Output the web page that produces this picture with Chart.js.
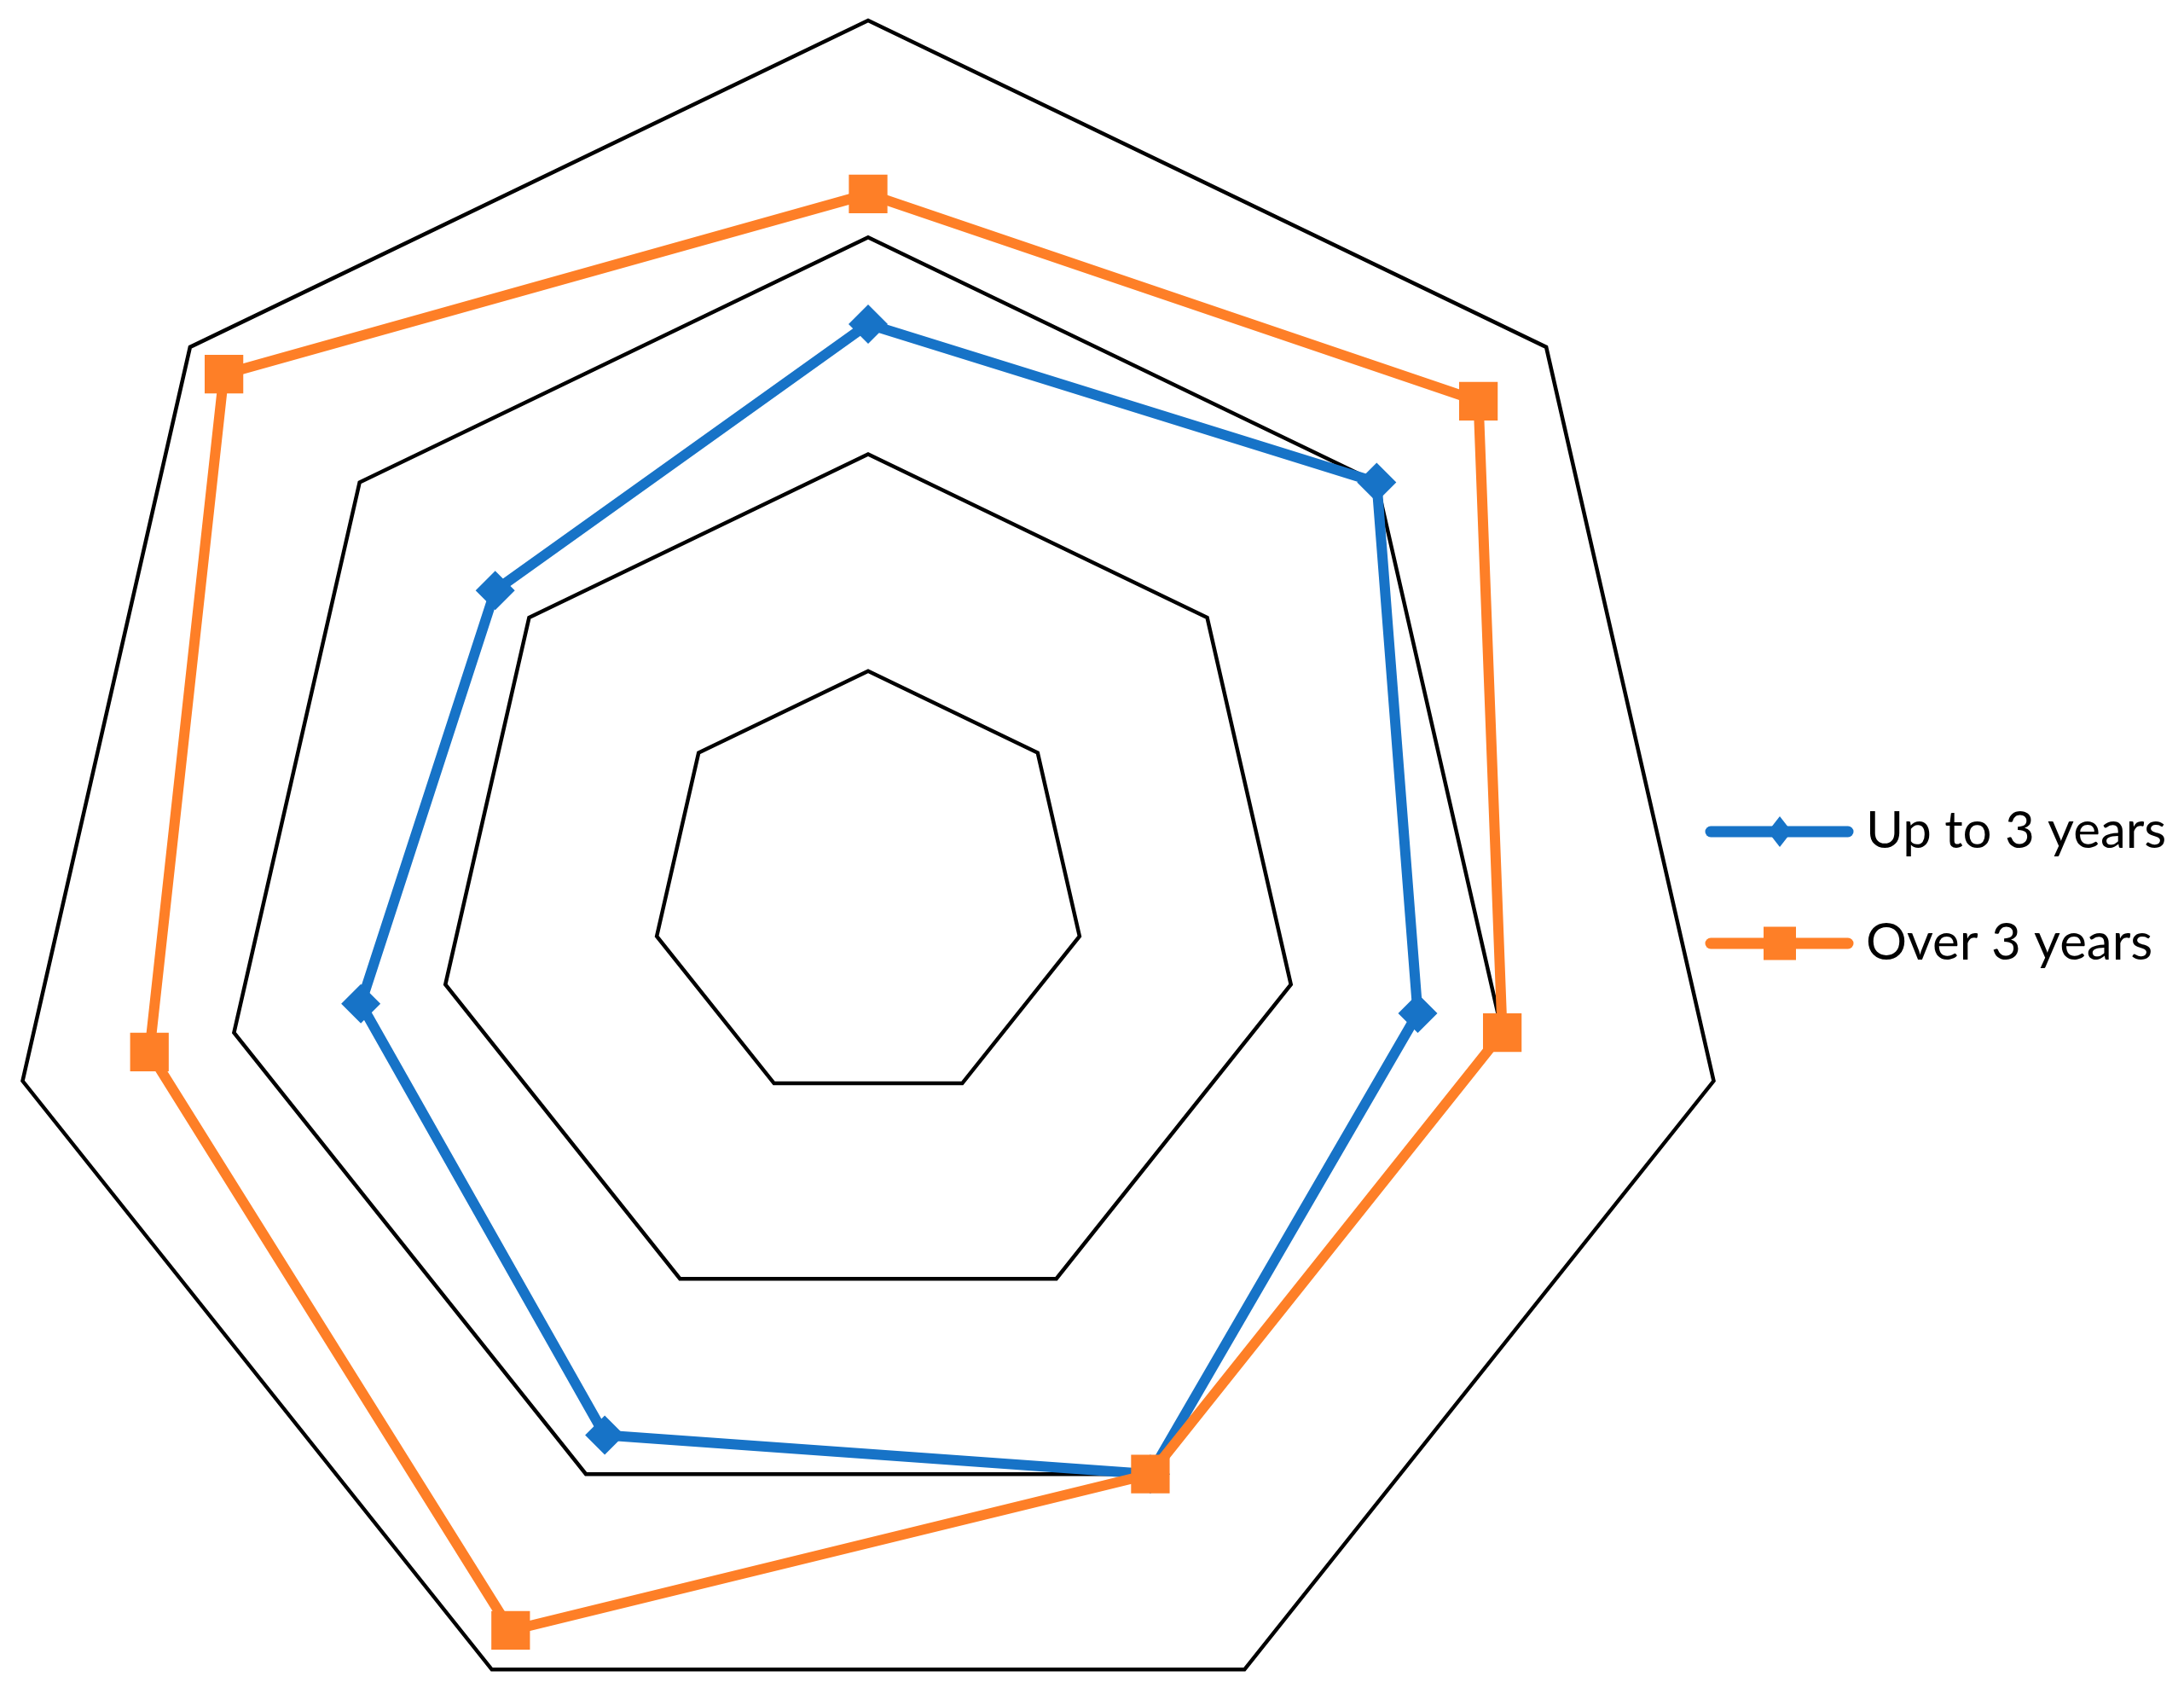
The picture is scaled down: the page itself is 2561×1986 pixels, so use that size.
<!DOCTYPE html>
<html>
<head>
<meta charset="utf-8">
<script src="https://cdn.jsdelivr.net/npm/chart.js@4.4.1/dist/chart.umd.min.js"></script>
<style>
    html, body { margin: 0; padding: 0; background: #ffffff; overflow: hidden; }
    #wrap { width: 2561px; height: 2100px; }
</style>
</head>
<body>
<div id="wrap"><canvas id="graficaRadar" width="2561" height="2100"></canvas></div>
<script>
// categories (no labels shown on the chart)
const categorias = ['A', 'B', 'C', 'D', 'E', 'F', 'G'];
const serieNombres = ['Up to 3 years', 'Over 3 years'];
const hastaTresAnios = [3.6, 4.0, 3.6, 4.0, 3.8, 3.4, 3.2];
const masDeTresAnios = [4.2, 4.6, 4.0, 4.0, 4.8, 4.4, 4.8];
const escalaMin = 1;
const escalaMax = 5;

const azul = '#1773c7';
const naranja = '#fe7f27';

// legend drawn by hand: line with marker, like the original
const leyendaLinea = {
    id: 'leyendaLinea',
    afterDraw(chart) {
        const ctx = chart.ctx;
        const filas = [975, 1106];
        ctx.save();
        chart.data.datasets.forEach(function(ds, i) {
            const y = filas[i];
            ctx.strokeStyle = ds.borderColor;
            ctx.lineWidth = 13;
            ctx.lineCap = 'round';
            ctx.beginPath();
            ctx.moveTo(2006, y);
            ctx.lineTo(2167, y);
            ctx.stroke();
            ctx.fillStyle = ds.borderColor;
            ctx.beginPath();
            if (ds.pointStyle === 'rectRot') {
                ctx.moveTo(2087, y - 18);
                ctx.lineTo(2101, y);
                ctx.lineTo(2087, y + 18);
                ctx.lineTo(2073, y);
                ctx.closePath();
            } else {
                ctx.rect(2087 - 19, y - 19.5, 38, 39);
            }
            ctx.fill();
            ctx.fillStyle = '#000000';
            ctx.font = '60px Lato';
            ctx.textBaseline = 'alphabetic';
            ctx.fillText(ds.label, 2188, y + 19);
        });
        ctx.restore();
    }
};

const ctxRadar = document.getElementById('graficaRadar');
new Chart(ctxRadar, {
    type: 'radar',
    data: {
        labels: categorias,
        datasets: [{
            label: serieNombres[0],
            data: hastaTresAnios,
            borderColor: azul,
            backgroundColor: azul,
            borderWidth: 12,
            fill: false,
            pointStyle: 'rectRot',
            pointRadius: 23,
            pointBorderWidth: 0,
            pointBackgroundColor: azul,
            order: 1
        }, {
            label: serieNombres[1],
            data: masDeTresAnios,
            borderColor: naranja,
            backgroundColor: naranja,
            borderWidth: 12,
            fill: false,
            pointStyle: 'rect',
            pointRadius: 32,
            pointBorderWidth: 0,
            pointBackgroundColor: naranja,
            order: 0
        }]
    },
    options: {
        responsive: false,
        animation: false,
        devicePixelRatio: 1,
        layout: {
            padding: { left: 1, top: 24, right: 526, bottom: 42 }
        },
        scales: {
            r: {
                min: escalaMin,
                max: escalaMax,
                ticks: { display: false, stepSize: 1 },
                pointLabels: { display: false },
                angleLines: { display: false },
                grid: { color: '#000000', lineWidth: 4.5 }
            }
        },
        plugins: {
            legend: { display: false },
            tooltip: { enabled: false },
            title: { display: false }
        }
    },
    plugins: [leyendaLinea]
});
</script>
</body>
</html>
